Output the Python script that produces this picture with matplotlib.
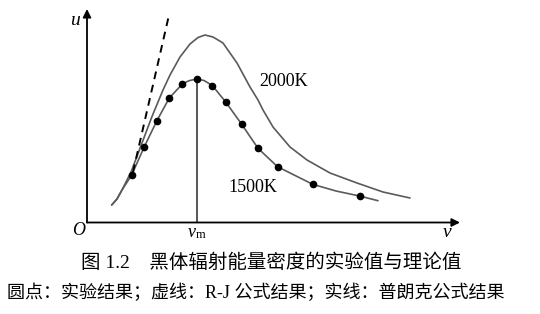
import matplotlib
matplotlib.use("Agg")
import matplotlib.pyplot as plt

# Experimental points (1500K), arbitrary units
exp_nu = [44.7, 57.3, 70.0, 82.3, 95.3, 109.7, 125.3, 138.7, 154.5, 171.0, 190.5, 225.7, 272.5]
exp_u = [47.5, 75.8, 102.0, 124.5, 138.5, 143.5, 137.0, 120.5, 98.5, 74.2, 55.8, 38.2, 26.5]

# Planck curve 1500K
p15_nu = [24.7, 30.0, 35.0, 44.7, 57.3, 70.0, 82.3, 95.3, 102.0, 109.7, 117.0, 125.3, 138.7, 154.5, 171.0, 190.5, 225.7, 249.0, 272.5, 291.0]
p15_u = [17.5, 23.5, 32.5, 47.5, 75.8, 102.0, 124.5, 138.5, 141.8, 143.5, 142.0, 137.0, 120.5, 98.5, 74.2, 55.8, 38.2, 31.5, 26.5, 21.8]

# Planck curve 2000K
p20_nu = [24.7, 30.0, 35.0, 44.0, 55.0, 65.0, 76.0, 83.0, 93.0, 103.0, 111.0, 118.0, 126.0, 136.0, 150.0, 163.0, 171.0, 176.0, 186.0, 203.0, 220.0, 243.0, 270.0, 296.0, 323.0]
p20_u = [17.5, 23.5, 32.5, 50.5, 79.5, 106.0, 132.5, 147.5, 165.5, 178.5, 185.0, 187.5, 185.5, 179.5, 159.5, 135.5, 122.5, 112.5, 95.5, 75.5, 62.5, 49.5, 39.5, 30.5, 24.5]

# Rayleigh-Jeans (dashed)
rj_nu = [46.0, 82.0]
rj_u = [50.5, 207.5]

nu_m = 109.7
u_max = 143.5

W, H = 540, 314
fig = plt.figure(figsize=(W / 100, H / 100), dpi=100)
x0, y0, x1, y1 = 87, 222.5, 460, 9
ax = fig.add_axes([x0 / W, (H - y0) / H, (x1 - x0) / W, (y0 - y1) / H])
ax.set_xlim(0, x1 - x0)
ax.set_ylim(0, y0 - y1)
ax.axis("off")

serif = ["Liberation Serif", "Noto Sans CJK SC"]

# axes arrows
ax.annotate("", xy=(x1 - x0, 0), xytext=(0, 0),
            arrowprops=dict(arrowstyle="-|>", color="black", lw=1.3,
                            mutation_scale=12, shrinkA=0, shrinkB=0), annotation_clip=False)
ax.annotate("", xy=(0, y0 - y1), xytext=(0, 0),
            arrowprops=dict(arrowstyle="-|>", color="black", lw=1.3,
                            mutation_scale=12, shrinkA=0, shrinkB=0), annotation_clip=False)

ax.plot(p20_nu, p20_u, color="#5a5a5a", lw=1.2, solid_capstyle="round", solid_joinstyle="round")
ax.plot(p15_nu, p15_u, color="#5a5a5a", lw=1.2, solid_capstyle="round", solid_joinstyle="round")
ax.plot(rj_nu, rj_u, color="black", lw=1.4, ls=(0, (4, 3)))
ax.plot([nu_m, nu_m], [0, u_max], color="#3a3a3a", lw=1.2)
ax.plot(exp_nu, exp_u, "o", color="black", ms=4.5, ls="none")

ax.text(172, 140.5, "2000K", family=serif, fontsize=13, va="center", ha="left")
ax.text(141, 34.5, "1500K", family=serif, fontsize=13, va="center", ha="left")

ax.text(-12, 202, "u", family=serif, style="italic", fontsize=14, va="center", ha="center")
ax.text(-8, -8, "O", family=serif, style="italic", fontsize=13, va="center", ha="center")
ax.text(360, -10, "ν", family=serif, style="italic", fontsize=14, va="center", ha="center")
ax.text(nu_m - 1, -10, "ν", family=serif, style="italic", fontsize=13, va="center", ha="right")
ax.text(nu_m - 1, -13, "m", family=serif, fontsize=9, va="center", ha="left")

fig.text(271 / W, 1 - 263 / H, "图 1.2\u3000黑体辐射能量密度的实验值与理论值",
         family=serif, fontsize=14, ha="center", va="center")
fig.text(255.5 / W, 1 - 293 / H, "圆点：实验结果；虚线：R-J 公式结果；实线：普朗克公式结果",
         family=serif, fontsize=13, ha="center", va="center")

fig.savefig("out.png", dpi=100)
